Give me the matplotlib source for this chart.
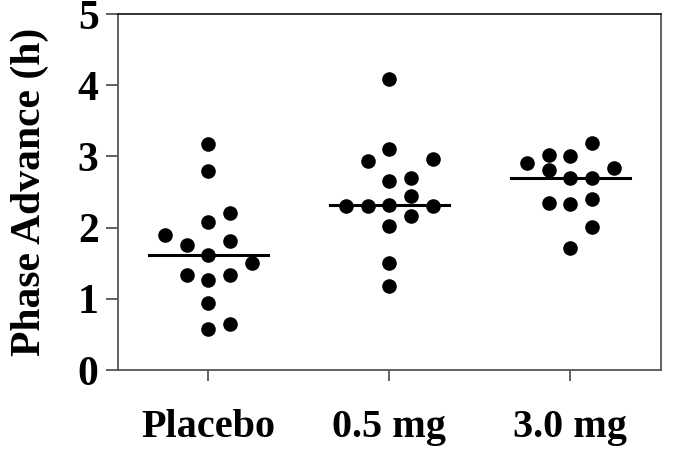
import numpy as np
import matplotlib.pyplot as plt

# groups and individual phase advances (h)
groups = ['Placebo', '0.5 mg', '3.0 mg']
placebo = [3.18, 2.80, 2.20, 2.08, 1.90, 1.81, 1.76, 1.62, 1.51, 1.34, 1.34, 1.26, 0.94, 0.65, 0.57]
placebo_col = [0, 0, 1, 0, -2, 1, -1, 0, 2, -1, 1, 0, 0, 1, 0]
mg05 = [4.09, 3.10, 2.94, 2.97, 2.66, 2.69, 2.44, 2.30, 2.30, 2.32, 2.30, 2.17, 2.02, 1.51, 1.18]
mg05_col = [0, 0, -1, 2, 0, 1, 1, -2, -1, 0, 2, 1, 0, 0, 0]
mg30 = [3.19, 3.02, 3.01, 2.91, 2.84, 2.81, 2.69, 2.69, 2.40, 2.35, 2.33, 2.01, 1.72]
mg30_col = [1, -1, 0, -2, 2, -1, 0, 1, 1, -1, 0, 1, 0]

yticks = [0, 1, 2, 3, 4, 5]

values = [placebo, mg05, mg30]
cols = [placebo_col, mg05_col, mg30_col]

plt.rcParams['font.family'] = 'Liberation Serif'
plt.rcParams['font.weight'] = 'bold'

fig = plt.figure(figsize=(6.75, 4.49), dpi=100)
ax = fig.add_axes([0.1748, 0.1759, 0.979 - 0.1748, 0.9688 - 0.1759])

step = 0.12
for i, (v, c) in enumerate(zip(values, cols)):
    xpos = i + 1 + step * np.array(c)
    ax.plot(xpos, v, 'o', color='black', markersize=10.5, markeredgewidth=0)
    med = np.median(v)
    ax.plot([i + 1 - 0.33, i + 1 + 0.33], [med, med], color='black', lw=2.2)

ax.set_xlim(0.5, 3.5)
ax.set_ylim(0, 5)
ax.set_xticks([1, 2, 3])
ax.set_xticklabels(groups, fontsize=29, fontweight='bold')
ax.set_yticks(yticks)
ax.set_yticklabels([str(t) for t in yticks], fontsize=30, fontweight='bold')
ax.set_ylabel('Phase Advance (h)', fontsize=30, fontweight='bold')
ax.yaxis.set_label_coords(-0.128, 0.5)

for s in ax.spines.values():
    s.set_color('#555555')
    s.set_linewidth(1.3)
ax.spines['top'].set_color('#222222')
ax.tick_params(axis='y', length=9, width=1.3, color='#555555', pad=5)
ax.tick_params(axis='x', length=8, width=1.3, color='#555555', pad=20)

fig.savefig('out.png', dpi=100)
